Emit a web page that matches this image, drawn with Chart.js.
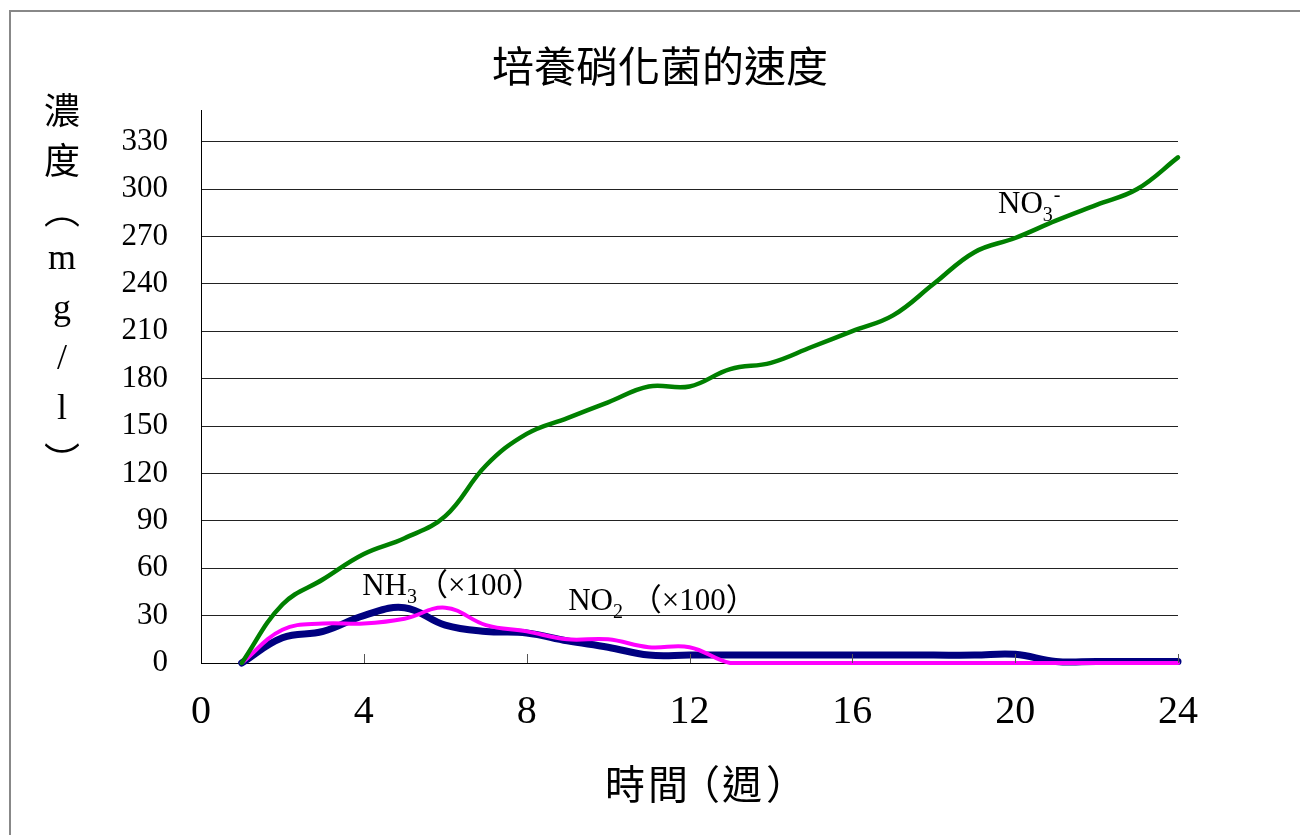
<!DOCTYPE html>
<html>
<head>
<meta charset="utf-8">
<script src="https://cdn.jsdelivr.net/npm/chart.js@4"></script>
<style>
  body { margin: 0; background: #fff; }
  #wrap { width: 1300px; height: 835px; }
</style>
</head>
<body>
<div id="wrap"><canvas id="chart" width="1300" height="835"></canvas></div>
<script>
// data (weeks 1..24)
const weeks = [1, 2, 3, 4, 5, 6, 7, 8, 9, 10, 11, 12, 13, 14, 15, 16, 17, 18, 19, 20, 21, 22, 23, 24];
const no3 = [0, 37, 53, 69, 79, 93, 125, 145, 155, 165, 175, 175, 186, 190, 200, 210, 220, 240, 260, 269, 280, 290, 300, 320];
const nh3 = [0, 16, 20, 30, 35, 24, 20, 19, 14, 10, 5, 5, 5, 5, 5, 5, 5, 5, 5, 5.5, 1, 1, 1, 1];
const no2 = [0, 21, 25, 25, 28, 35, 24, 20, 15, 15, 10, 10, 0, 0, 0, 0, 0, 0, 0, 0, 0, 0, 0, 0];

const xTicks = [0, 4, 8, 12, 16, 20, 24];
const yTicks = [0, 30, 60, 90, 120, 150, 180, 210, 240, 270, 300, 330];

const title = '培養硝化菌的速度';
const xTitle = ['時', '間', '（', '週', '）'];
const yTitle = ['濃', '度', '︵', 'm', 'g', '/', 'l', '︶'];

// in-chart series labels: [main, sub, sup, rest], anchored at data coords
const seriesLabels = [
    { main: 'NO', sub: '3', sup: '-', rest: '', x: 19.58, y: 284.8 },
    { main: 'NH', sub: '3', sup: '', rest: '（×100）', x: 3.96, y: 43 },
    { main: 'NO', sub: '2', sup: '', rest: ' （×100）', x: 9.02, y: 33.5 }
];

const SERIF = "'Liberation Serif', 'Noto Sans CJK TC', serif";
const CJK = "'Noto Sans CJK TC', 'Liberation Serif', sans-serif";

const decorations = {
    id: 'decorations',
    beforeDraw(chart) {
        const ctx = chart.ctx;
        ctx.save();
        // outer frame (top + left only visible)
        ctx.strokeStyle = '#888';
        ctx.lineWidth = 2;
        ctx.beginPath();
        ctx.moveTo(1300, 11);
        ctx.lineTo(10, 11);
        ctx.lineTo(10, 835);
        ctx.stroke();
        ctx.restore();
    },
    afterDatasetsDraw(chart) {
        const ctx = chart.ctx;
        const xs = chart.scales.x;
        const ys = chart.scales.y;
        const area = chart.chartArea;
        ctx.save();

        // inward x ticks
        ctx.strokeStyle = '#555';
        ctx.lineWidth = 1;
        xTicks.forEach(v => {
            if (v === 0) return;
            const px = Math.round(xs.getPixelForValue(v)) + 0.5;
            ctx.beginPath();
            ctx.moveTo(px, area.bottom);
            ctx.lineTo(px, area.bottom - 9);
            ctx.stroke();
        });

        // title
        ctx.fillStyle = '#000';
        ctx.textAlign = 'center';
        ctx.textBaseline = 'middle';
        ctx.font = '42px ' + CJK;
        ctx.fillText(title, 660, 66);

        // x axis title, spaced like the original
        ctx.font = '40px ' + CJK;
        const xPos = [625, 668, 700, 742, 786];
        xTitle.forEach((ch, i) => ctx.fillText(ch, xPos[i], 784));

        // y axis title, one char per slot
        yTitle.forEach((ch, i) => {
            ctx.font = /[a-z\/]/.test(ch) ? '36px ' + SERIF : '36px ' + CJK;
            ctx.fillText(ch, 62, 110 + i * 50);
        });

        // series labels
        ctx.textAlign = 'left';
        ctx.textBaseline = 'alphabetic';
        seriesLabels.forEach(l => {
            let px = xs.getPixelForValue(l.x);
            const py = ys.getPixelForValue(l.y);
            ctx.font = '31px ' + SERIF;
            ctx.fillText(l.main, px, py);
            px += ctx.measureText(l.main).width;
            ctx.font = '20px ' + SERIF;
            ctx.fillText(l.sub, px, py + 8);
            let subW = ctx.measureText(l.sub).width;
            if (l.sup) {
                ctx.fillText(l.sup, px + subW + 1, py - 12);
                subW += ctx.measureText(l.sup).width + 1;
            }
            px += subW;
            if (l.rest) {
                ctx.font = '31px ' + SERIF;
                ctx.fillText(l.rest, px, py);
            }
        });
        ctx.restore();
    }
};

new Chart(document.getElementById('chart'), {
    type: 'line',
    data: {
        labels: weeks,
        datasets: [
            { label: 'NO3-', data: weeks.map((w, i) => ({ x: w, y: no3[i] })), borderColor: '#008000', borderWidth: 4.5 },
            { label: 'NO2', data: weeks.map((w, i) => ({ x: w, y: no2[i] })), borderColor: '#FF00FF', borderWidth: 4 },
            { label: 'NH3', data: weeks.map((w, i) => ({ x: w, y: nh3[i] })), borderColor: '#000080', borderWidth: 7 }
        ]
    },
    options: {
        responsive: false,
        animation: false,
        devicePixelRatio: 1,
        layout: { padding: { top: 110, right: 122, left: 0, bottom: 0 } },
        elements: {
            line: { tension: 0.4, fill: false, borderCapStyle: 'round', borderJoinStyle: 'round' },
            point: { radius: 0, hoverRadius: 0 }
        },
        datasets: { line: { clip: false } },
        plugins: {
            legend: { display: false },
            title: { display: false },
            tooltip: { enabled: false }
        },
        scales: {
            x: {
                type: 'linear',
                min: 0,
                max: 24,
                afterFit: s => { s.height = 172; },
                afterBuildTicks: s => { s.ticks = xTicks.map(v => ({ value: v })); },
                ticks: {
                    color: '#000',
                    padding: 25,
                    maxRotation: 0,
                    font: { family: 'Liberation Serif', size: 40 }
                },
                grid: { drawOnChartArea: false, drawTicks: false },
                border: { display: true, color: '#000', width: 1 }
            },
            y: {
                min: 0,
                max: 350,
                afterFit: s => { s.width = 201; },
                afterBuildTicks: s => { s.ticks = yTicks.map(v => ({ value: v })); },
                ticks: {
                    color: '#000',
                    padding: 33,
                    font: { family: 'Liberation Serif', size: 31 }
                },
                grid: { color: '#222', lineWidth: 1, drawTicks: false },
                border: { display: true, color: '#000', width: 1 }
            }
        }
    },
    plugins: [decorations]
});
</script>
</body>
</html>
